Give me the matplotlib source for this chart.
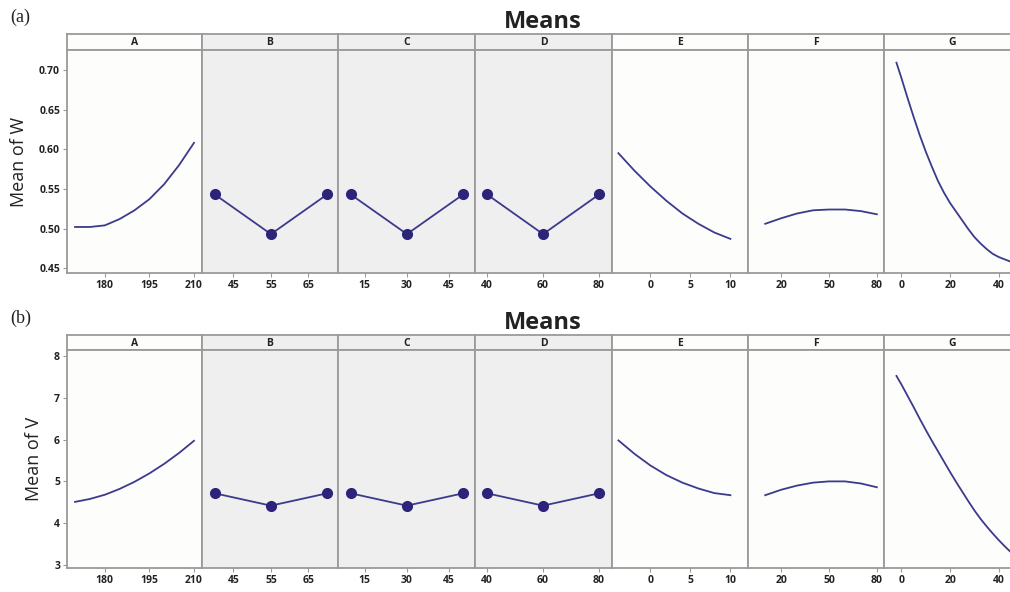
#!/usr/bin/env python3
"""Main effects plots (Means) for W and V, two stacked rows of factor panels."""

import matplotlib

matplotlib.use("Agg")

import matplotlib.pyplot as plt

# factor names, shaded (categorical) factors and tick labels
FACTORS = ["A", "B", "C", "D", "E", "F", "G"]
SHADED = ["B", "C", "D"]
XTICKS = {
    "A": [180, 195, 210],
    "B": [45, 55, 65],
    "C": [15, 30, 45],
    "D": [40, 60, 80],
    "E": [0, 5, 10],
    "F": [20, 50, 80],
    "G": [0, 20, 40],
}
XLIMS = {
    "A": (167.3, 212.7),
    "B": (36.6, 72.9),
    "C": (5.5, 54.2),
    "D": (35.7, 84.6),
    "E": (-4.8, 12.2),
    "F": (-0.8, 84.5),
    "G": (-7.1, 48.6),
}

# x levels of each factor
A_X = [170, 175, 180, 185, 190, 195, 200, 205, 210]
B_X = [40, 55, 70]
C_X = [10, 30, 50]
D_X = [40, 60, 80]
E_X = [-4, -2, 0, 2, 4, 6, 8, 10]
F_X = [10, 20, 30, 40, 50, 60, 70, 80]
G_X = [-2, 0, 2.5, 5, 7.5, 10, 12.5, 15, 17.5, 20, 22.5, 25, 27.5, 30, 32.5, 35, 37.5, 40, 42.5, 45, 48]

# mean of W
W_A = [0.502, 0.502, 0.504, 0.512, 0.523, 0.537, 0.556, 0.580, 0.608]
W_B = [0.543, 0.493, 0.543]
W_C = [0.543, 0.493, 0.543]
W_D = [0.543, 0.493, 0.543]
W_E = [0.595, 0.573, 0.553, 0.535, 0.519, 0.506, 0.495, 0.487]
W_F = [0.506, 0.513, 0.519, 0.523, 0.524, 0.524, 0.522, 0.518]
W_G = [0.709, 0.690, 0.665, 0.641, 0.618, 0.597, 0.578, 0.560, 0.545, 0.532, 0.521, 0.510,
       0.499, 0.489, 0.481, 0.474, 0.468, 0.464, 0.461, 0.458, 0.456]

# mean of V
V_A = [4.51, 4.58, 4.68, 4.82, 4.99, 5.19, 5.42, 5.68, 5.97]
V_B = [4.715, 4.42, 4.715]
V_C = [4.715, 4.42, 4.715]
V_D = [4.715, 4.42, 4.715]
V_E = [5.98, 5.66, 5.38, 5.15, 4.97, 4.83, 4.72, 4.67]
V_F = [4.67, 4.80, 4.90, 4.97, 5.00, 5.00, 4.95, 4.86]
V_G = [7.52, 7.32, 7.05, 6.78, 6.50, 6.23, 5.97, 5.72, 5.47, 5.22, 4.98, 4.75,
       4.52, 4.30, 4.10, 3.92, 3.75, 3.59, 3.44, 3.30, 3.14]

W_YTICKS = [0.45, 0.50, 0.55, 0.60, 0.65, 0.70]
V_YTICKS = [3, 4, 5, 6, 7, 8]

LINE = "#3b3a8c"
DOT = "#2b2479"
EDGE = "#9a9a9a"
GRAY_BG = "#efefef"
WHITE_BG = "#fdfdfb"
TXT = "#222222"

W = 1010
H = 592
EDGES = [67, 202, 338, 475, 612, 748, 884, 1020]


def fig_box(x0, y0, x1, y1):
    return [x0 / W, 1 - y1 / H, (x1 - x0) / W, (y1 - y0) / H]


def draw_row(fig, xs, ys, y_strip, y_top, y_bot, ylim, yticks, yfmt, ylabel, title, tag):
    for i, name in enumerate(FACTORS):
        x0, x1 = EDGES[i], EDGES[i + 1]
        bg = GRAY_BG if name in SHADED else WHITE_BG

        strip = fig.add_axes(fig_box(x0, y_strip, x1, y_top))
        strip.set_facecolor(bg)
        strip.set_xticks([])
        strip.set_yticks([])
        for sp in strip.spines.values():
            sp.set_color(EDGE)
            sp.set_linewidth(1.3)
        strip.text(0.5, 0.45, name, transform=strip.transAxes, ha="center", va="center",
                   fontsize=7.5, fontweight="bold", color=TXT)

        ax = fig.add_axes(fig_box(x0, y_top, x1, y_bot))
        ax.set_facecolor(bg)
        for sp in ax.spines.values():
            sp.set_color(EDGE)
            sp.set_linewidth(1.3)
        if name in SHADED:
            ax.plot(xs[i], ys[i], color=LINE, lw=1.3, marker="o", ms=7,
                    mfc=DOT, mec=DOT, zorder=3)
        else:
            ax.plot(xs[i], ys[i], color=LINE, lw=1.3, zorder=3)
        ax.set_xlim(*XLIMS[name])
        ax.set_ylim(*ylim)
        ax.set_xticks(XTICKS[name])
        ax.set_xticklabels([str(t) for t in XTICKS[name]], fontsize=7.5, color=TXT,
                           fontweight="bold")
        ax.tick_params(axis="x", length=3, width=0.8, color=EDGE, pad=2)
        if i == 0:
            ax.set_yticks(yticks)
            ax.set_yticklabels([yfmt.format(t) for t in yticks], fontsize=7.5, color=TXT,
                               fontweight="bold")
            ax.tick_params(axis="y", length=3, width=0.8, color=EDGE, pad=2)
            ax.set_ylabel(ylabel, fontsize=13, color=TXT, labelpad=8)
        else:
            ax.set_yticks([])

    fig.text(543 / W, 1 - (y_strip - 12) / H, title, ha="center", va="center",
             fontsize=17, fontweight="bold", color=TXT)
    fig.text(10 / W, 1 - (y_strip - 17) / H, tag, ha="left", va="center",
             fontsize=13, family="Liberation Serif", color=TXT)


def main():
    plt.rcParams["font.family"] = ["Open Sans", "DejaVu Sans"]
    fig = plt.figure(figsize=(W / 100, H / 100), dpi=100)
    fig.patch.set_facecolor("white")

    xs = [A_X, B_X, C_X, D_X, E_X, F_X, G_X]
    draw_row(fig, xs, [W_A, W_B, W_C, W_D, W_E, W_F, W_G], 34, 50, 273,
             (0.444, 0.725), W_YTICKS, "{:.2f}", "Mean of W", "Means", "(a)")
    draw_row(fig, xs, [V_A, V_B, V_C, V_D, V_E, V_F, V_G], 335, 350, 568,
             (2.93, 8.14), V_YTICKS, "{:d}", "Mean of V", "Means", "(b)")

    fig.savefig("out.png", dpi=100)
    plt.close(fig)


if __name__ == "__main__":
    main()
